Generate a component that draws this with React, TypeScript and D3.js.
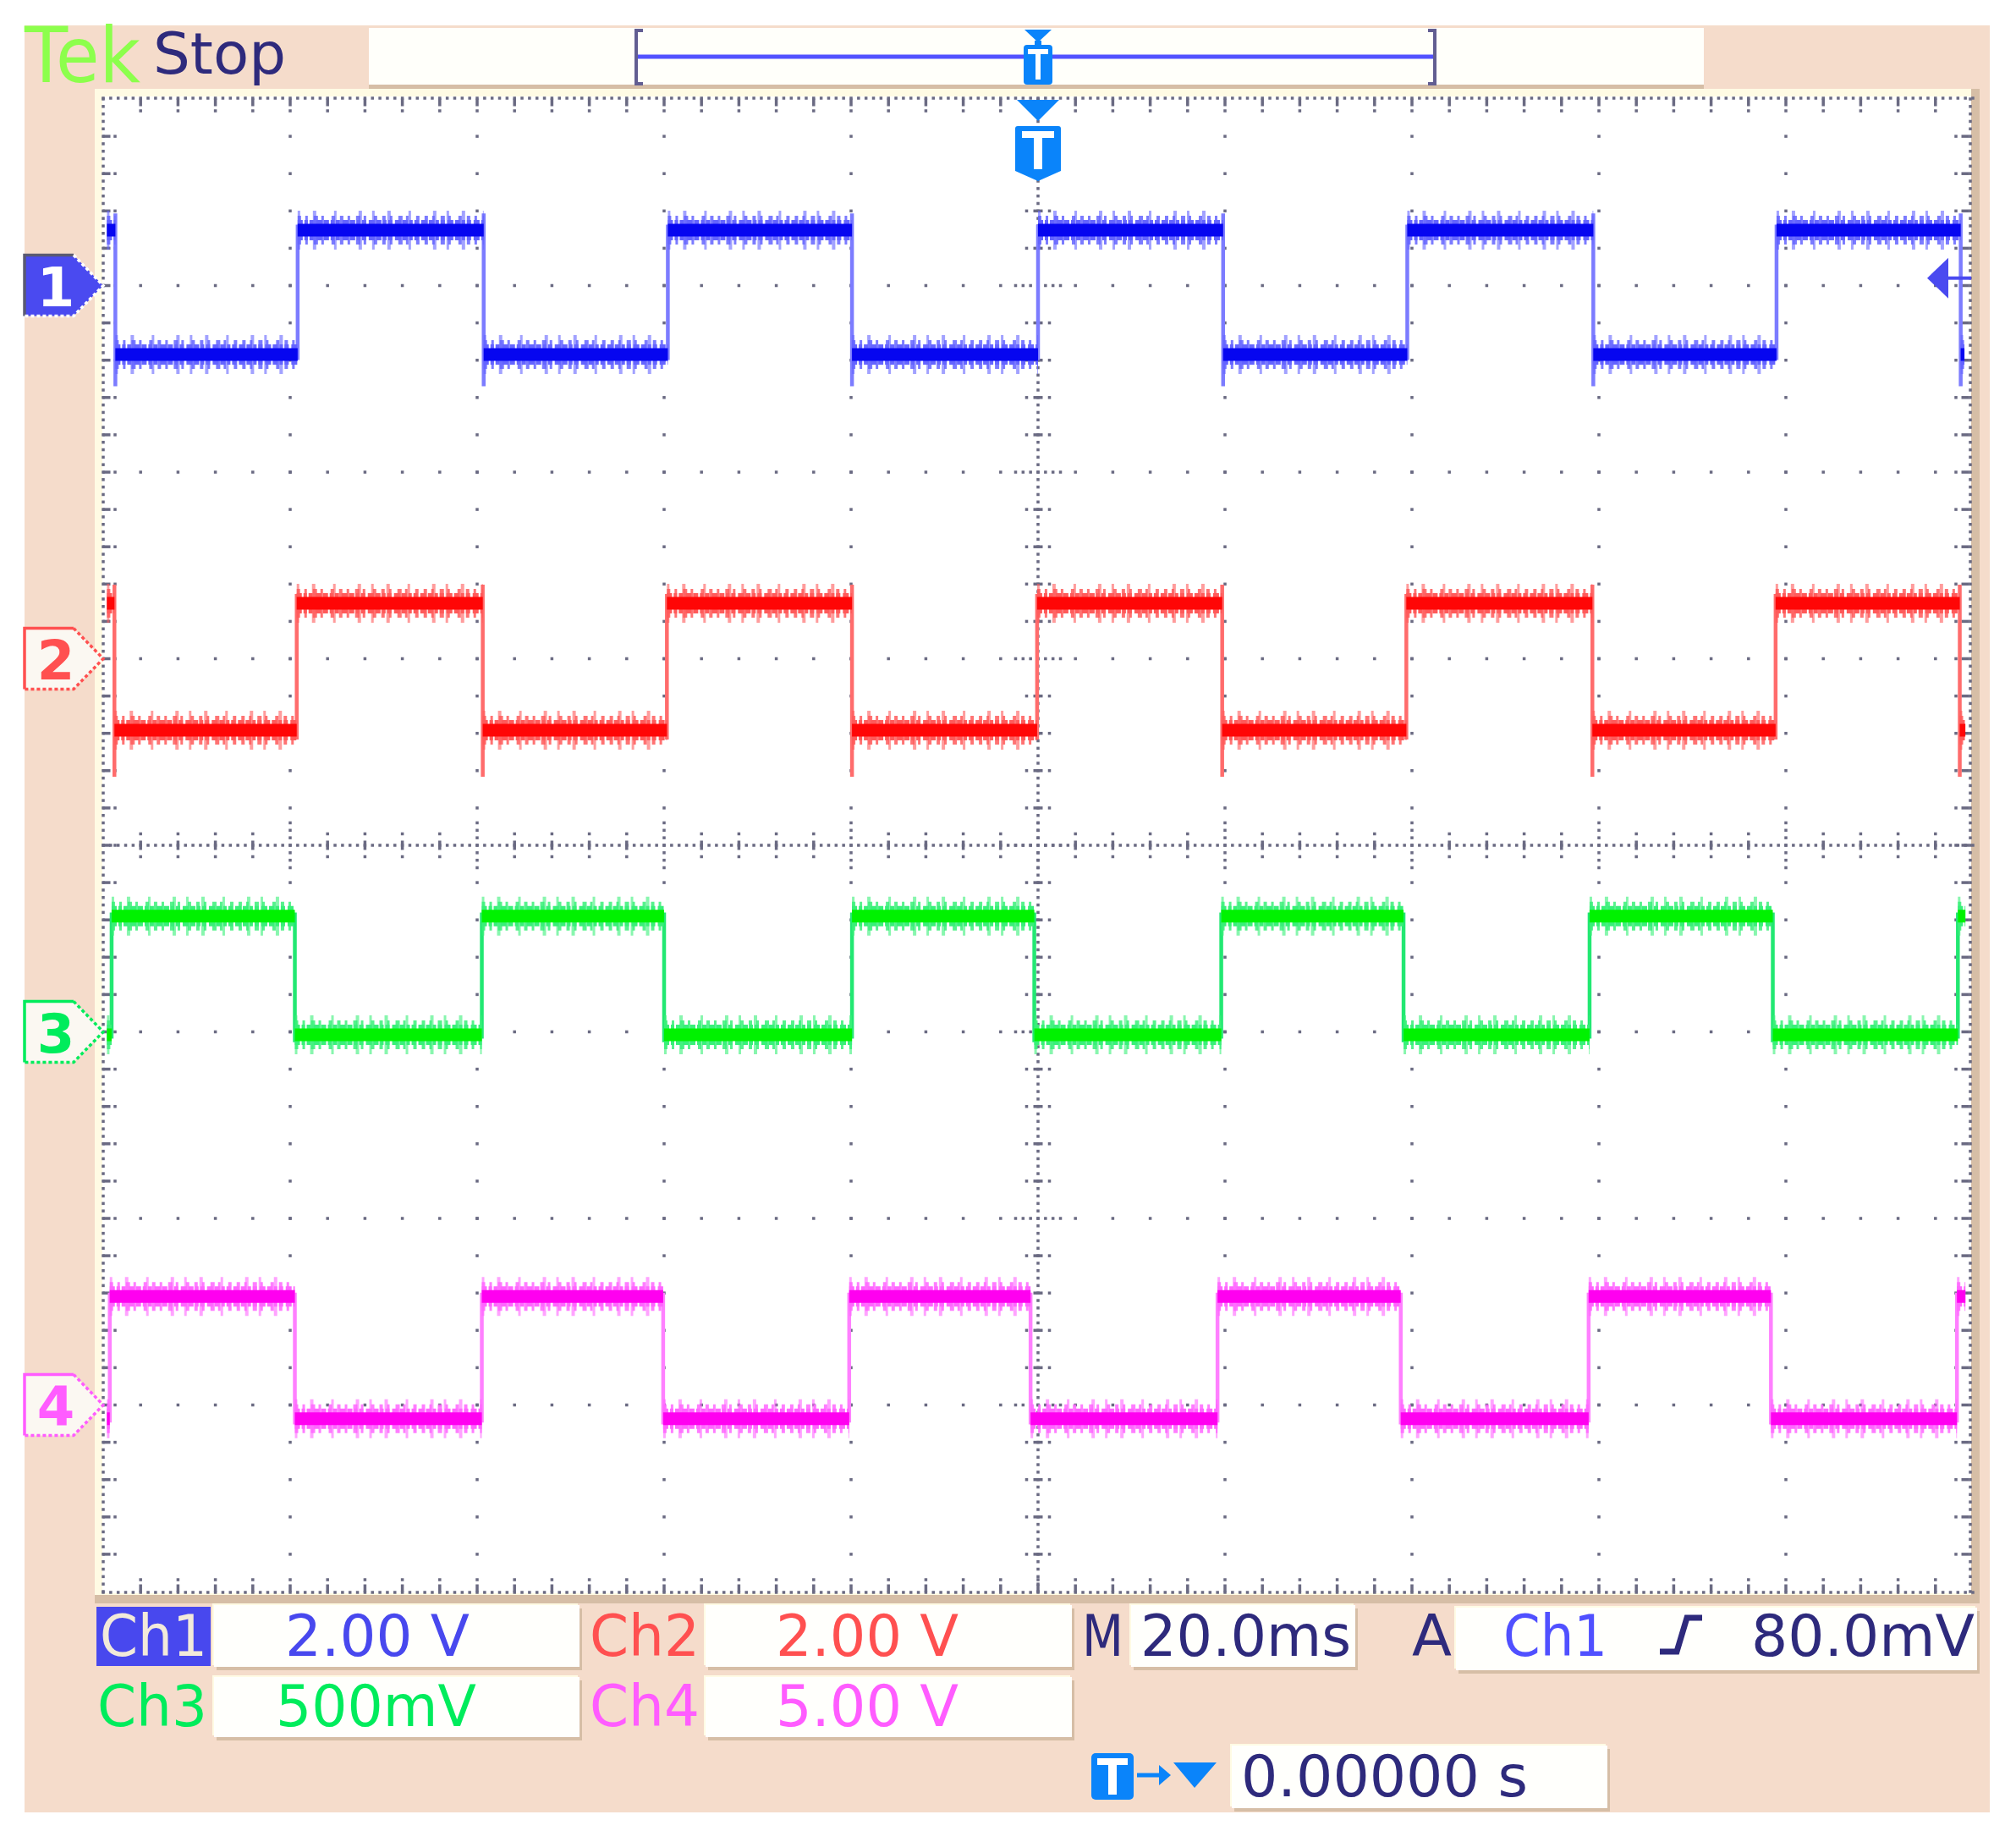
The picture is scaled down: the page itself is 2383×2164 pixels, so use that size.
import React from 'react';
import * as d3 from 'd3';

const channelIds = ['1', '2', '3', '4'];
const channelLabels = ['Ch1', 'Ch2', 'Ch3', 'Ch4'];
const voltsPerDiv = [2.0, 2.0, 0.5, 5.0];
const scaleTexts = ['2.00 V', '2.00 V', '500mV', '5.00 V'];
const groundDiv = [3, 1, -1, -3];
const highLevelsV = [0.594, 0.594, 0.31, 2.91];
const lowLevelsV = [-0.739, -0.766, -0.008, -0.37];
const startsHigh = [true, true, false, false];
const ch1EdgesMs = [-98.7, -79.2, -59.3, -39.6, -19.9, 0.0, 19.8, 39.5, 59.4, 79.0, 98.7];
const ch2EdgesMs = [-98.8, -79.3, -59.4, -39.7, -19.9, -0.1, 19.7, 39.4, 59.3, 78.9, 98.6];
const ch3EdgesMs = [-99.1, -79.5, -59.5, -40.0, -19.9, -0.4, 19.6, 39.1, 59.0, 78.6, 98.4];
const ch4EdgesMs = [-99.3, -79.5, -59.5, -40.1, -20.2, -0.8, 19.2, 38.8, 58.9, 78.4, 98.3];
const channelEdges = [ch1EdgesMs, ch2EdgesMs, ch3EdgesMs, ch4EdgesMs];
const traceStartMs = [-99.6, -99.6, -99.6, -99.6];
const traceEndMs = [99.1, 99.2, 99.2, 99.2];
const timeDomainMs = [-100, 100];
const triggerTimeMs = 0;
const triggerLevelV = 0.08;
const timebaseText = '20.0ms';
const triggerSourceText = 'Ch1';
const triggerLevelText = '80.0mV';
const triggerPosText = '0.00000 s';

// ---------------- styles ----------------
const FONT = 'DejaVu Sans';
const PEACH = '#f5dccb';
const CREAM = '#fffbe4';
const TAN = '#d6bea6';
const NAVY = '#2e2a7c';
const GRID = '#6a6a82';
const TBLUE = '#0a84fa';
const coreColors = ['#0606f0', '#ff0606', '#00f200', '#ff00f0'];
const fringeColors = ['#6464ff', '#ff5a5a', '#38f078', '#ff66ff'];
const edgeColors = ['#7c7cff', '#ff6c6c', '#22e872', '#ff80ff'];
const labelColors = ['#4848ee', '#ff5050', '#00ec5c', '#ff5cff'];
const fallExtDiv = [[0.09, 0.17], [0.1, 0.25], [0.02, 0.04], [0.02, 0.03]];
const riseExtDiv = [[0.03, 0.03], [0.05, 0.05], [0.02, 0.02], [0.02, 0.02]];

const PLOT = { x0: 122, x1: 2332, y0: 117, y1: 1881 };

function Dot({ x, y, w = 3.5, h = 3.5 }: { x: number; y: number; w?: number; h?: number }) {
  return <rect x={x - w / 2} y={y - h / 2} width={w} height={h} fill={GRID} />;
}

function Box({ x0, x1, y0, y1 }: { x0: number; x1: number; y0: number; y1: number }) {
  return (
    <g>
      <rect x={x0 + 3} y={y0 + 4} width={x1 - x0} height={y1 - y0} fill={TAN} />
      <rect x={x0 - 2} y={y0 - 2} width={x1 - x0} height={y1 - y0} fill={CREAM} />
      <rect x={x0} y={y0} width={x1 - x0} height={y1 - y0} fill="#fffffc" />
    </g>
  );
}

function T({ x, x1, y, text, size = 67, fill = NAVY }: { x: number; x1: number; y: number; text: string; size?: number; fill?: string }) {
  return (
    <text x={x} y={y} fontFamily={FONT} fontSize={size} fill={fill} textLength={x1 - x} lengthAdjust="spacingAndGlyphs">
      {text}
    </text>
  );
}

export default function App() {
  const xTime = d3.scaleLinear().domain(timeDomainMs).range([PLOT.x0, PLOT.x1]);
  const xDiv = d3.scaleLinear().domain([-5, 5]).range([PLOT.x0, PLOT.x1]);
  const yDiv = d3.scaleLinear().domain([4, -4]).range([PLOT.y0, PLOT.y1]);
  const pxPerDivY = yDiv(0) - yDiv(1);

  // ---------- grid ----------
  const dots: JSX.Element[] = [];
  let key = 0;
  const add = (x: number, y: number, w = 3.5, h = 3.5) => dots.push(<Dot key={key++} x={x} y={y} w={w} h={h} />);
  for (let i = -4; i <= 4; i++) {
    if (i === 0) continue;
    for (let k = 1; k < 40; k++) add(xDiv(i), yDiv(-4 + k * 0.2));
  }
  for (let j = -3; j <= 3; j++) {
    if (j === 0) continue;
    for (let k = 1; k < 50; k++) add(xDiv(-5 + k * 0.2), yDiv(j));
  }
  for (let k = 0; k <= 200; k++) add(xDiv(0), yDiv(-4 + k * 0.04));
  for (let k = 0; k <= 250; k++) add(xDiv(-5 + k * 0.04), yDiv(0));
  const fine = xDiv(0.04) - xDiv(0);
  for (let k = 1; k < 40; k++) {
    const y = yDiv(-4 + k * 0.2);
    if (k % 5 === 0) {
      for (const m of [-3, -2, -1, 1, 2, 3]) add(xDiv(0) + m * fine, y);
    } else {
      add(xDiv(0), y, 11, 3.5);
      add(xDiv(0) - 13.5, y);
      add(xDiv(0) + 13.5, y);
    }
  }
  for (let k = 1; k < 50; k++) {
    const x = xDiv(-5 + k * 0.2);
    if (k % 5 === 0) {
      for (const m of [-3, -2, -1, 1, 2, 3]) add(x, yDiv(0) + m * fine);
    } else {
      add(x, yDiv(0), 3.5, 11);
      add(x, yDiv(0) - 13.5);
      add(x, yDiv(0) + 13.5);
    }
  }
  for (let k = 0; k <= 250; k++) {
    const x = xDiv(-5 + k * 0.04);
    add(x, PLOT.y0 - 1);
    add(x, PLOT.y1 + 1);
  }
  for (let k = 0; k <= 200; k++) {
    const y = yDiv(-4 + k * 0.04);
    add(PLOT.x0, y);
    add(PLOT.x1 - 3, y);
  }
  for (let k = 1; k < 50; k++) {
    const x = xDiv(-5 + k * 0.2);
    add(x, PLOT.y0 + 4, 3.5, 9);
    add(x, PLOT.y0 + 14);
    add(x, PLOT.y1 - 4, 3.5, 9);
    add(x, PLOT.y1 - 14);
  }
  for (let k = 1; k < 40; k++) {
    const y = yDiv(-4 + k * 0.2);
    add(PLOT.x0 + 4, y, 9, 3.5);
    add(PLOT.x0 + 14, y);
    add(PLOT.x1 - 9, y, 9, 3.5);
    add(PLOT.x1 - 20, y);
  }

  // ---------- traces ----------
  const traces = channelIds.map((id, c) => {
    const yOf = (v: number) => yDiv(groundDiv[c] + v / voltsPerDiv[c]);
    const hi = yOf(highLevelsV[c]);
    const lo = yOf(lowLevelsV[c]);
    const edges = channelEdges[c];
    const times = [traceStartMs[c], ...edges, traceEndMs[c]];
    const flat = d3.path();
    const vert = d3.path();
    let high = startsHigh[c];
    for (let i = 0; i < times.length - 1; i++) {
      const y = high ? hi : lo;
      flat.moveTo(xTime(times[i]), y);
      flat.lineTo(xTime(times[i + 1]), y);
      if (i < edges.length) {
        const x = xTime(edges[i]);
        if (high) {
          const e = fallExtDiv[c];
          vert.moveTo(x, hi - e[0] * pxPerDivY);
          vert.lineTo(x, lo + e[1] * pxPerDivY);
        } else {
          const e = riseExtDiv[c];
          vert.moveTo(x, lo + e[0] * pxPerDivY);
          vert.lineTo(x, hi - e[1] * pxPerDivY);
        }
        high = !high;
      }
    }
    const f = flat.toString();
    return (
      <g key={id}>
        <path d={vert.toString()} stroke={edgeColors[c]} strokeWidth={4.5} fill="none" />
        <path d={f} stroke={fringeColors[c]} strokeWidth={46} strokeDasharray="3 15 4 21 3 26 4 12" opacity={0.6} fill="none" />
        <path d={f} stroke={fringeColors[c]} strokeWidth={34} strokeDasharray="4 5 3 7 5 4 3 9 4 6" opacity={0.85} fill="none" />
        <path d={f} stroke={fringeColors[c]} strokeWidth={24} strokeDasharray="6 2 4 2 5 3 7 2" fill="none" />
        <path d={f} stroke={coreColors[c]} strokeWidth={15} fill="none" />
      </g>
    );
  });

  // ---------- channel markers ----------
  const markers = channelIds.map((id, c) => {
    const y = yDiv(groundDiv[c]);
    const pts: [number, number][] = [[29, y - 36], [87, y - 36], [PLOT.x0, y], [87, y + 36], [29, y + 36]];
    const poly = pts.map((p) => p.join(',')).join(' ');
    const selected = c === 0;
    const col = labelColors[c];
    return (
      <g key={id}>
        <polygon points={poly} fill={selected ? '#4a4af0' : '#fbf8f2'} />
        <path d={`M87,${y - 36}H29V${y + 36}`} stroke={selected ? '#5a5a72' : col} strokeWidth={3.5} fill="none" />
        <path d={`M87,${y - 36}L${PLOT.x0},${y}L87,${y + 36}H29`} stroke={selected ? '#ffffff' : col} strokeWidth={3.5} strokeDasharray="4 3" fill="none" />
        <text x={66} y={y + 24} textAnchor="middle" fontFamily={FONT} fontSize={64} fontWeight="bold" fill={selected ? '#ffffff' : col}>
          {id}
        </text>
      </g>
    );
  });

  const xT = xTime(triggerTimeMs);
  const yTrig = yDiv(groundDiv[0] + triggerLevelV / voltsPerDiv[0]);

  return (
    <svg width={2383} height={2164} style={{ position: 'absolute', left: 0, top: 0, background: '#ffffff' }}>
      <rect x={29} y={30} width={2323} height={2112} fill={PEACH} />

      {/* header */}
      <T x={29} x1={166} y={97} text="Tek" size={90} fill="#8cff4c" />
      <T x={181} x1={338} y={87} text="Stop" size={67} fill={NAVY} />
      <rect x={436} y={33} width={1578} height={72} fill={TAN} />
      <rect x={436} y={33} width={1578} height={67} fill="#fffffa" />
      <path d="M760,36H752V99H760" stroke="#625e92" strokeWidth={4} fill="none" />
      <path d="M1688,36H1696V99H1688" stroke="#625e92" strokeWidth={4} fill="none" />
      <line x1={754} x2={1694} y1={67} y2={67} stroke="#5252ff" strokeWidth={5} />
      <path d={`M${xT - 16},35H${xT + 16}L${xT},50Z`} fill={TBLUE} />
      <rect x={xT - 4} y={48} width={8} height={6} fill={TBLUE} />
      <rect x={xT - 17} y={53} width={34} height={47} rx={4} fill={TBLUE} />
      <rect x={xT - 12} y={58} width={24} height={6} fill="#ffffff" />
      <rect x={xT - 3} y={58} width={6} height={36} fill="#ffffff" />

      {/* graticule frame */}
      <rect x={112} y={105} width={2228} height={1790} fill={TAN} />
      <rect x={112} y={105} width={2218} height={1780} fill={CREAM} />
      <rect x={PLOT.x0 - 1} y={PLOT.y0 - 3} width={PLOT.x1 - PLOT.x0 - 1} height={PLOT.y1 - PLOT.y0 + 5} fill="#ffffff" />
      <g>{dots}</g>

      {/* traces */}
      <g>{traces}</g>

      {/* trigger marker in graticule */}
      <path d={`M${xT - 25},118H${xT + 25}L${xT},143Z`} fill={TBLUE} />
      <path d={`M${xT - 27},152Q${xT - 27},149 ${xT - 24},149H${xT + 24}Q${xT + 27},149 ${xT + 27},152V202L${xT},214L${xT - 27},202Z`} fill={TBLUE} />
      <rect x={xT - 19} y={155} width={38} height={8} fill="#ffffff" />
      <rect x={xT - 5} y={155} width={10} height={45} fill="#ffffff" />

      {/* trigger level arrow on right */}
      <path d={`M2278,${yTrig}L2303,${yTrig - 24}V${yTrig + 24}Z`} fill="#4a4af0" />
      <line x1={2300} x2={2330} y1={yTrig} y2={yTrig} stroke="#4a4af0" strokeWidth={4} />

      {markers}

      {/* readouts */}
      <rect x={114} y={1899} width={135} height={70} fill="#4848ee" />
      <T x={118} x1={245} y={1957} text={channelLabels[0]} fill="#f2eada" />
      <Box x0={253} x1={685} y0={1897} y1={1970} />
      <T x={337} x1={555} y={1957} text={scaleTexts[0]} fill={labelColors[0]} />
      <T x={697} x1={827} y={1957} text={channelLabels[1]} fill={labelColors[1]} />
      <Box x0={834} x1={1267} y0={1897} y1={1970} />
      <T x={917} x1={1133} y={1957} text={scaleTexts[1]} fill={labelColors[1]} />

      <T x={115} x1={245} y={2040} text={channelLabels[2]} fill={labelColors[2]} />
      <Box x0={253} x1={685} y0={1982} y1={2053} />
      <T x={326} x1={563} y={2040} text={scaleTexts[2]} fill={labelColors[2]} />
      <T x={697} x1={827} y={2040} text={channelLabels[3]} fill={labelColors[3]} />
      <Box x0={834} x1={1267} y0={1982} y1={2053} />
      <T x={917} x1={1133} y={2040} text={scaleTexts[3]} fill={labelColors[3]} />

      <T x={1279} x1={1328} y={1957} text="M" />
      <Box x0={1337} x1={1602} y0={1897} y1={1970} />
      <T x={1348} x1={1597} y={1957} text={timebaseText} />
      <T x={1669} x1={1716} y={1957} text="A" />
      <Box x0={1721} x1={2337} y0={1900} y1={1974} />
      <T x={1777} x1={1900} y={1957} text={triggerSourceText} fill="#5050ff" />
      <path d="M1962,1952H1982L1994,1912H2012" stroke={NAVY} strokeWidth={7} fill="none" />
      <T x={2070} x1={2334} y={1957} text={triggerLevelText} />

      <rect x={1290} y={2072} width={50} height={55} rx={5} fill={TBLUE} />
      <rect x={1297} y={2078} width={36} height={8} fill="#ffffff" />
      <rect x={1310} y={2078} width={10} height={43} fill="#ffffff" />
      <line x1={1344} x2={1374} y1={2098} y2={2098} stroke={TBLUE} strokeWidth={5} />
      <path d="M1370,2086L1384,2098L1370,2110Z" fill={TBLUE} />
      <path d="M1387,2083H1438L1412,2113Z" fill={TBLUE} />
      <Box x0={1456} x1={1900} y0={2063} y1={2137} />
      <T x={1467} x1={1806} y={2123} text={triggerPosText} />
    </svg>
  );
}
